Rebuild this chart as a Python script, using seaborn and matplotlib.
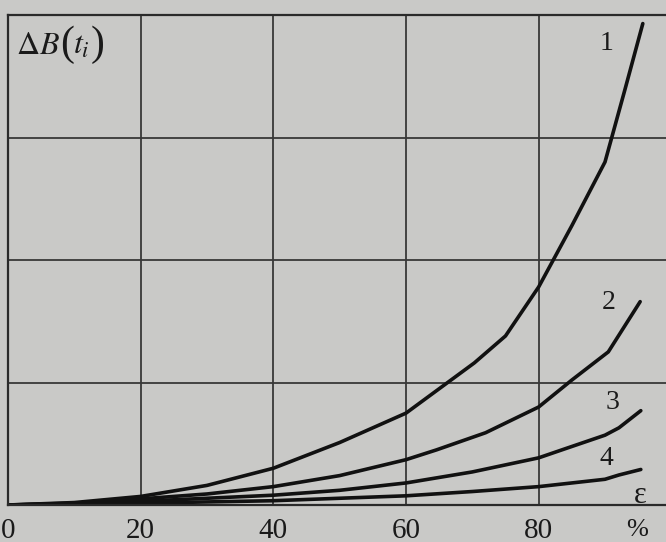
import numpy as np
import pandas as pd
import matplotlib
matplotlib.use("Agg")
import matplotlib.pyplot as plt
import seaborn as sns

# ---- data ----
eps_1 = [0, 10, 20, 30, 40, 50, 60, 70.3, 75, 80, 85, 90, 93, 95.7]
dB_1 = [0, 0.02, 0.07, 0.16, 0.30, 0.51, 0.75, 1.16, 1.38, 1.78, 2.28, 2.80, 3.39, 3.93]

eps_2 = [0, 10, 20, 30, 40, 50, 60, 64.6, 72, 80, 85, 90.5, 95.3]
dB_2 = [0, 0.01, 0.05, 0.09, 0.15, 0.24, 0.37, 0.45, 0.59, 0.80, 1.02, 1.25, 1.66]

eps_3 = [0, 20, 40, 50, 60, 70, 80, 83.5, 90, 92.1, 95.4]
dB_3 = [0, 0.03, 0.08, 0.12, 0.18, 0.27, 0.385, 0.45, 0.57, 0.63, 0.77]

eps_4 = [0, 20, 40, 60, 70, 80, 90, 92.1, 95.4]
dB_4 = [0, 0.015, 0.035, 0.075, 0.11, 0.15, 0.21, 0.245, 0.29]

curve_names = ["1", "2", "3", "4"]
x_ticks = [0, 20, 40, 60, 80]
x_tick_labels = ["0", "20", "40", "60", "80"]

frames = []
for name, xs, ys in zip(curve_names, [eps_1, eps_2, eps_3, eps_4], [dB_1, dB_2, dB_3, dB_4]):
    frames.append(pd.DataFrame({"eps": xs, "dB": ys, "curve": name}))
df = pd.concat(frames, ignore_index=True)

# ---- style ----
sns.set_style("white")
plt.rcParams["font.family"] = ["Liberation Serif", "DejaVu Serif"]
plt.rcParams["mathtext.fontset"] = "stix"

paper = "#c9c9c7"
ink = "#1a1a1a"
W, H = 666, 542
fig = plt.figure(figsize=(W / 100, H / 100), dpi=100, facecolor=paper)
ax = fig.add_axes([8 / W, (H - 505) / H, (W - 8) / W + 0.01, (505 - 15) / H])
ax.set_facecolor(paper)

sns.lineplot(data=df, x="eps", y="dB", hue="curve", units="curve", estimator=None,
             sort=False, palette=["#111111"] * 4, linewidth=2.6, legend=False, ax=ax)

ax.set_xlim(0, 100.2)
ax.set_ylim(0, 4.0)
ax.set_xticks(x_ticks)
ax.set_xticklabels(x_tick_labels)
ax.set_yticks([1, 2, 3])
ax.set_yticklabels([])
ax.tick_params(axis="both", length=0)
ax.tick_params(axis="x", pad=9, labelsize=21, labelcolor=ink)
ax.grid(True, color="#383838", linewidth=1.3)
for side in ["left", "top", "bottom"]:
    ax.spines[side].set_visible(True)
    ax.spines[side].set_color("#2a2a2a")
    ax.spines[side].set_linewidth(1.6)
ax.spines["right"].set_visible(False)
ax.set_xlabel("")
ax.set_ylabel("")


def ftext(px, py, s, size, **kw):
    fig.text(px / W, 1 - py / H, s, fontsize=size, color=ink, ha="left", va="center", **kw)


# axis title  ΔB(t_i) with tall parentheses
ftext(16, 46, r"$\Delta B$", 23)
ftext(60, 45, "(", 30)
ftext(73, 46, r"$t_i$", 23)
ftext(91, 45, ")", 30)

# curve labels and axis symbol
ax.text(90.2, 3.77, "1", fontsize=20, color=ink, ha="center", va="center")
ax.text(90.6, 1.65, "2", fontsize=20, color=ink, ha="center", va="center")
ax.text(91.2, 0.84, "3", fontsize=20, color=ink, ha="center", va="center")
ax.text(90.2, 0.38, "4", fontsize=20, color=ink, ha="center", va="center")
ax.text(95.3, 0.08, "ε", fontsize=22, color=ink, ha="center", va="center")
ax.text(94.8, -0.2, "%", fontsize=19, color=ink, ha="center", va="center",
        clip_on=False)

fig.savefig("out.png", dpi=100, facecolor=paper)
